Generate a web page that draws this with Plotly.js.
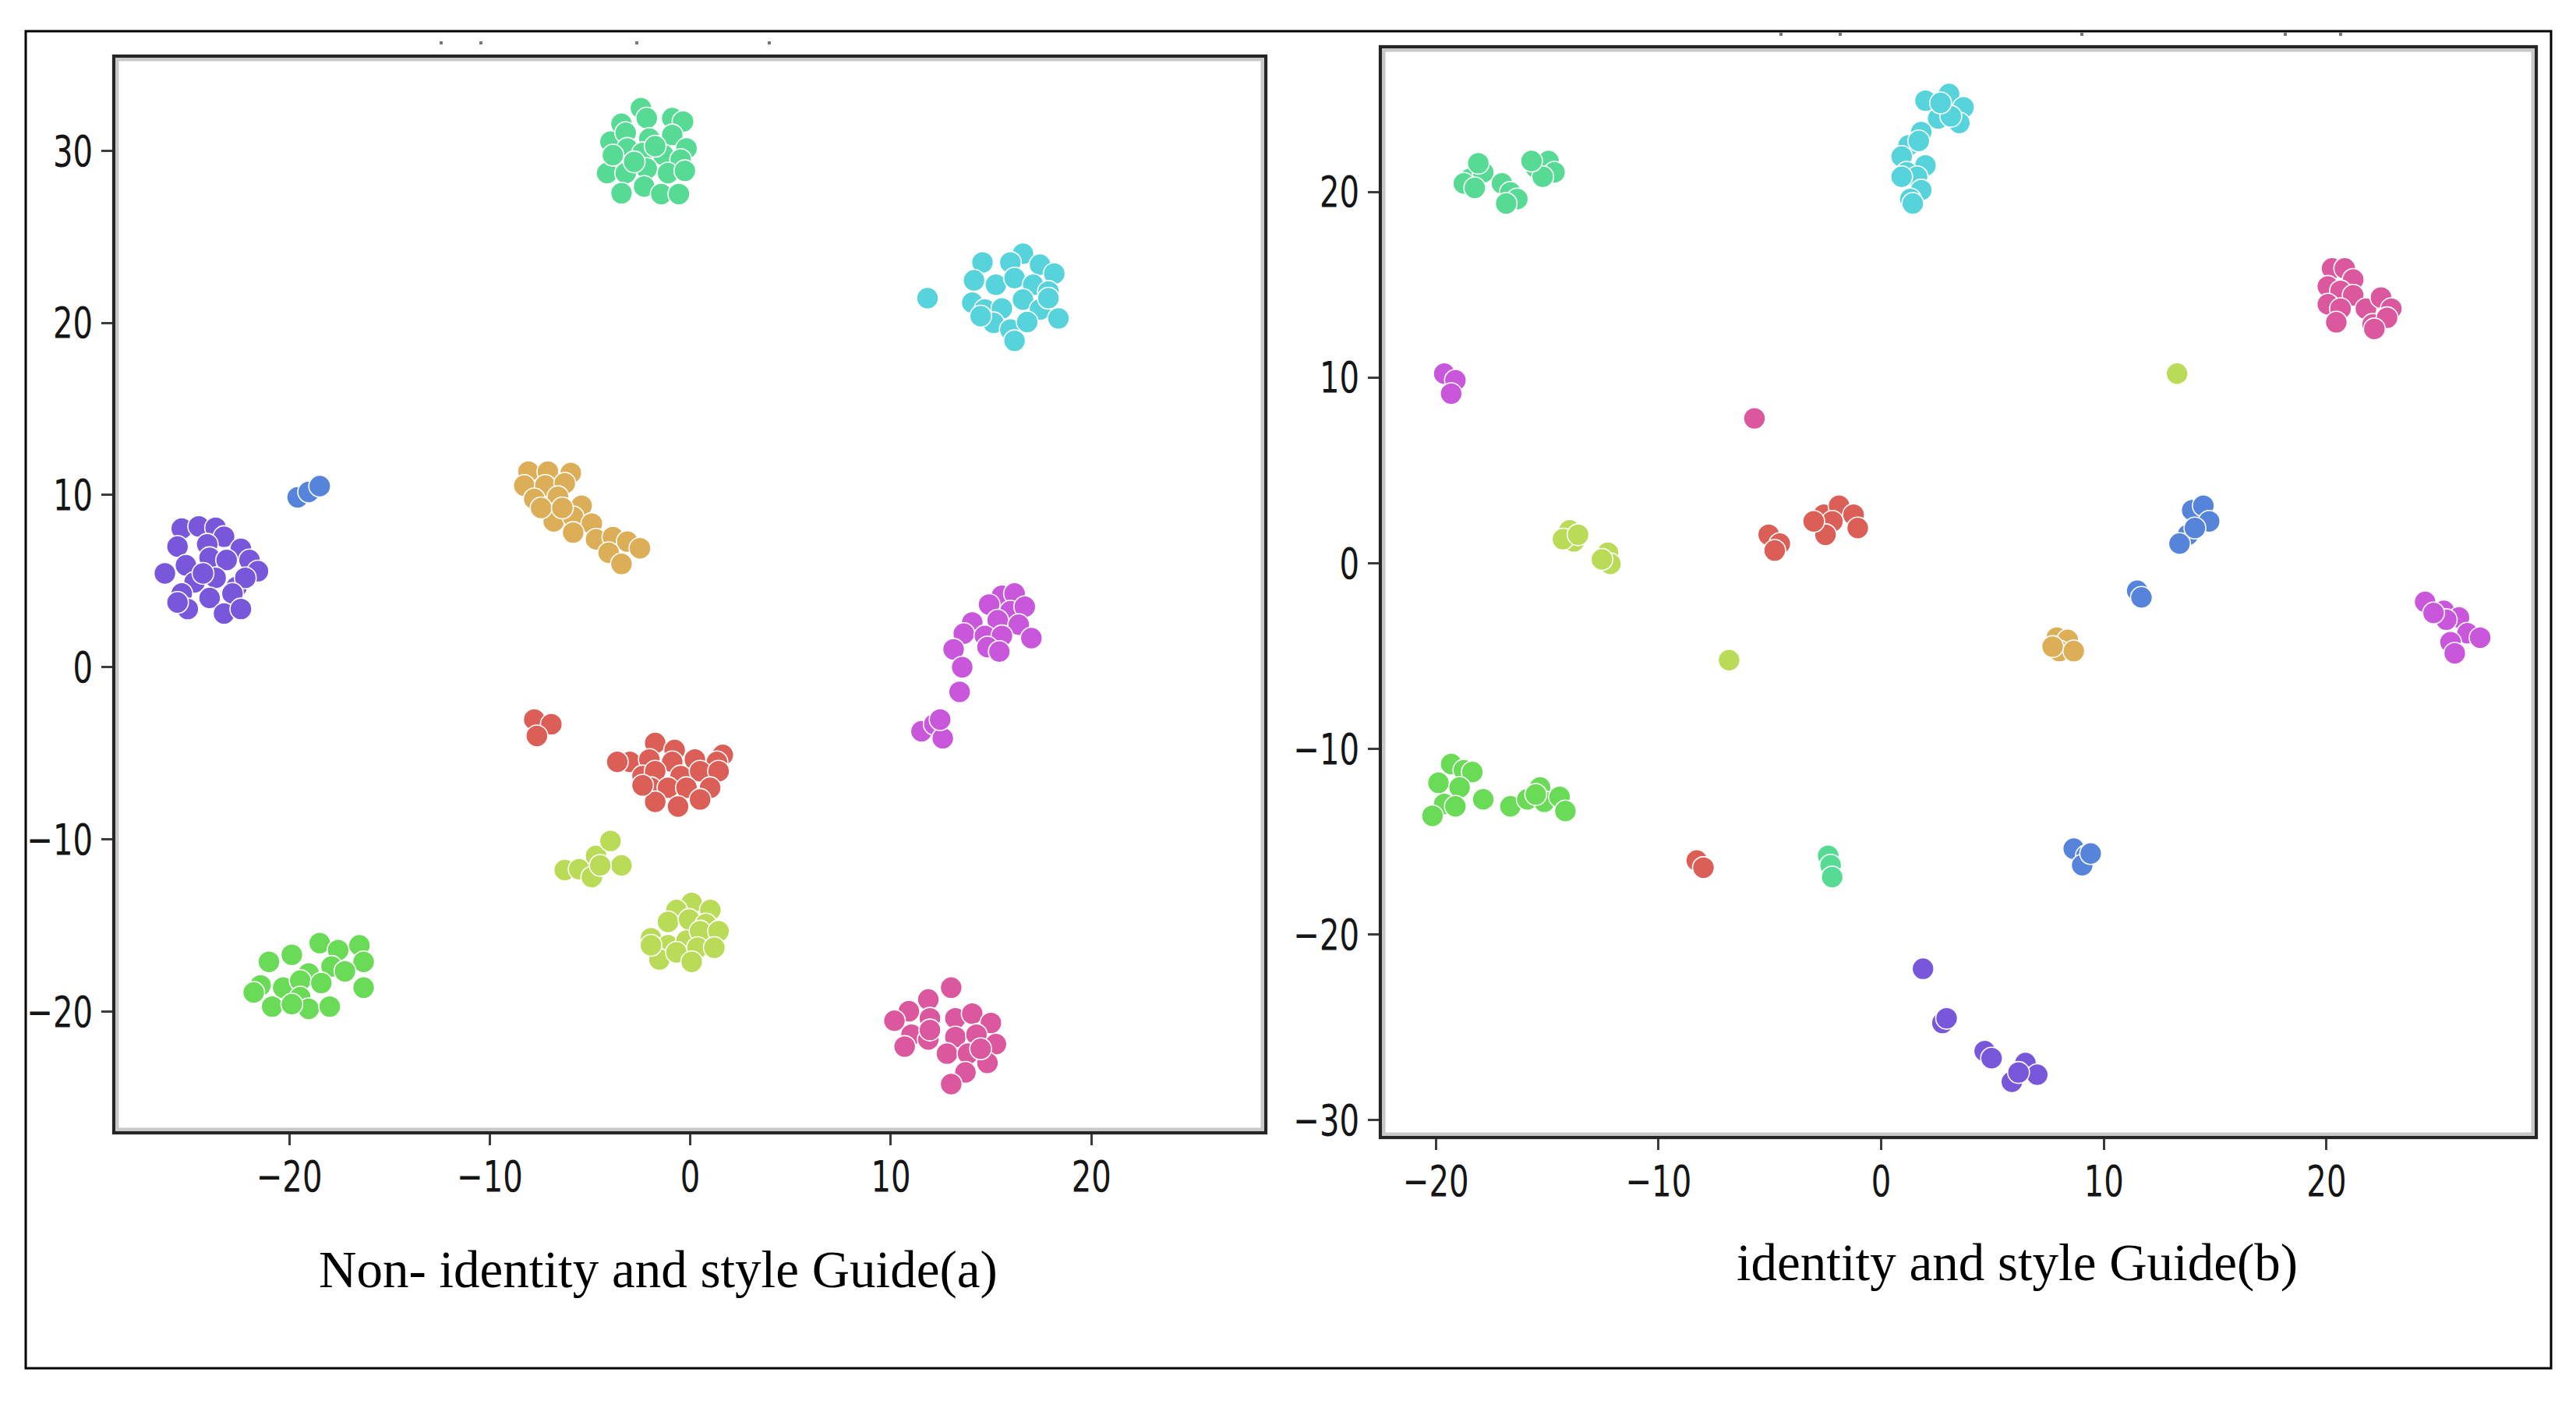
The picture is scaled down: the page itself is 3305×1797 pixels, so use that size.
<!DOCTYPE html>
<html>
<head>
<meta charset="utf-8">
<script src="https://cdn.plot.ly/plotly-3.0.1.min.js"></script>
<style>html,body{margin:0;padding:0;background:#fff;}#chart{width:3305px;height:1797px;}</style>
</head>
<body>
<div id="chart"></div>
<script>
// ---------- DATA: panel (a) "Non- identity and style Guide" ----------
const A_RED_X = [-7.78,-6.93,-7.65,-1.75,-0.78,-3.01,-3.64,-2.04,-0.90,0.23,1.62,1.33,-2.38,-1.75,-0.48,0.49,1.41,-1.96,-1.11,-0.19,0.99,-1.75,-0.61,0.49,-2.38];
const A_RED_Y = [-3.04,-3.31,-3.99,-4.40,-4.81,-5.50,-5.50,-5.36,-5.50,-5.36,-5.09,-5.50,-6.32,-6.04,-6.32,-6.04,-6.04,-7.00,-7.00,-7.00,-7.00,-7.82,-8.09,-7.68,-6.86];
const A_GOLD_X = [-8.07,-7.10,-5.96,-8.28,-7.23,-6.26,-7.78,-6.60,-5.42,-6.81,-5.84,-4.91,-5.84,-4.70,-3.86,-3.14,-2.51,-4.07,-3.43,-7.44,-6.38];
const A_GOLD_Y = [11.36,11.36,11.28,10.55,10.55,10.68,9.77,9.90,9.38,8.47,8.73,8.34,7.82,7.43,7.56,7.30,6.91,6.65,6.00,9.25,9.25];
const A_YGREEN_X = [-6.26,-5.54,-4.70,-3.98,-3.43,-4.91,-4.49,0.07,-0.69,1.00,-1.11,-0.06,0.78,-1.96,-1.11,-0.19,0.49,1.41,-1.54,-0.69,0.36,1.20,0.07,-1.96];
const A_YGREEN_Y = [-11.78,-11.73,-10.96,-10.09,-11.51,-12.19,-11.51,-13.69,-14.10,-14.10,-14.79,-14.65,-14.92,-15.74,-16.15,-15.88,-15.33,-15.33,-16.97,-16.56,-16.29,-16.29,-17.11,-16.15];
const A_GREEN_X = [-18.48,-19.87,-21.01,-17.56,-16.50,-16.29,-19.03,-17.89,-17.22,-21.43,-20.30,-19.45,-18.40,-16.29,-20.85,-19.45,-19.03,-17.98,-21.77,-19.87];
const A_GREEN_Y = [-16.02,-16.70,-17.11,-16.43,-16.15,-17.11,-17.79,-17.38,-17.66,-18.48,-18.61,-18.20,-18.34,-18.61,-19.71,-19.16,-19.84,-19.71,-18.89,-19.57];
const A_MINT_X = [-2.46,-3.43,-2.17,-0.90,-0.36,-3.98,-3.22,-2.04,-0.90,-0.19,-3.14,-2.38,-1.33,-0.48,-4.15,-3.22,-2.17,-1.11,-0.27,-3.43,-2.30,-1.45,-0.57,-2.80,-1.75,-3.86];
const A_MINT_Y = [32.47,31.56,31.89,31.89,31.69,30.52,31.04,30.70,30.91,30.13,30.13,29.87,29.74,29.48,28.70,28.70,28.96,28.70,28.83,27.53,27.92,27.48,27.48,29.35,30.26,29.74];
const A_CYAN_X = [11.83,16.59,14.57,15.96,17.44,18.15,14.15,15.24,16.17,17.10,17.86,14.06,14.69,15.54,16.59,17.44,18.36,15.12,15.96,16.80,16.17,14.48,17.86];
const A_CYAN_Y = [21.43,24.02,23.51,23.51,23.38,22.86,22.47,22.21,22.60,22.21,21.82,21.17,20.78,20.83,21.35,20.78,20.26,20.00,19.61,20.05,18.96,20.39,21.43];
const A_BLUE_X = [-19.58,-19.03,-18.48];
const A_BLUE_Y = [9.87,10.18,10.52];
const A_PURPLE_X = [-25.36,-24.51,-23.67,-23.25,-25.57,-24.09,-22.41,-26.20,-25.15,-23.97,-23.12,-21.98,-21.56,-24.72,-23.67,-22.62,-22.19,-25.36,-23.97,-22.83,-25.06,-23.25,-22.41,-25.57,-24.30];
const A_PURPLE_Y = [8.05,8.18,8.10,7.58,7.01,7.14,6.88,5.45,5.92,6.36,6.23,6.23,5.58,4.93,5.19,4.67,5.19,4.28,4.02,4.28,3.38,3.12,3.38,3.76,5.45];
const A_MAGENTA_X = [15.54,16.17,14.90,15.96,16.68,14.06,15.33,16.38,13.64,14.69,15.54,17.01,13.13,14.82,15.41,13.56,13.43,11.53,12.17,12.59,12.46];
const A_MAGENTA_Y = [4.15,4.28,3.64,3.25,3.51,2.60,2.73,2.47,1.95,1.82,1.82,1.69,1.04,1.17,0.91,0.00,-1.43,-3.72,-3.31,-4.13,-3.04];
const A_PINK_X = [13.01,11.87,10.90,10.18,11.95,13.22,14.06,14.99,11.03,11.87,13.22,14.27,15.24,10.69,12.80,13.85,14.82,13.72,13.01,14.48,11.95];
const A_PINK_Y = [-18.61,-19.30,-19.98,-20.53,-20.39,-20.39,-20.12,-20.66,-21.34,-21.62,-21.48,-21.34,-21.89,-22.03,-22.44,-22.44,-22.98,-23.53,-24.21,-22.16,-21.07];

// ---------- DATA: panel (b) "identity and style Guide" ----------
const B_RED_X = [-5.05,-4.55,-4.78,-2.57,-1.89,-1.24,-2.19,-1.05,-2.50,-3.03,-8.28,-7.98];
const B_RED_Y = [1.53,1.05,0.68,2.61,3.09,2.61,2.25,1.89,1.53,2.25,-16.03,-16.41];
const B_GOLD_X = [7.89,8.38,8.00,8.65,7.70];
const B_GOLD_Y = [-4.02,-4.14,-4.74,-4.74,-4.50];
const B_YGREEN_X = [-13.99,-13.80,-14.29,-12.27,-12.16,-12.54,-13.61,13.29,-6.83];
const B_YGREEN_Y = [1.77,1.17,1.29,0.56,-0.04,0.20,1.53,10.21,-5.23];
const B_GREEN_X = [-19.31,-18.74,-18.36,-19.88,-18.93,-17.87,-19.62,-19.12,-20.15,-16.65,-15.89,-15.32,-15.13,-14.44,-14.18,-15.51];
const B_GREEN_Y = [-10.83,-11.16,-11.26,-11.84,-12.09,-12.73,-12.98,-13.11,-13.62,-13.11,-12.73,-12.09,-12.86,-12.60,-13.36,-12.47];
const B_MINT_X = [-18.47,-17.87,-18.09,-18.74,-18.25,-17.03,-16.65,-16.34,-16.84,-15.51,-14.94,-14.67,-15.20,-15.70,-2.38,-2.27,-2.20];
const B_MINT_Y = [20.70,21.06,21.55,20.46,20.22,20.46,19.98,19.62,19.38,21.31,21.67,21.06,20.82,21.67,-15.77,-16.28,-16.92];
const B_CYAN_X = [1.99,3.05,3.70,3.51,2.56,1.80,1.23,1.69,0.92,1.99,1.15,1.61,0.92,1.80,1.31,1.42,3.13,2.67];
const B_CYAN_Y = [24.92,25.28,24.56,23.72,23.96,23.23,22.51,22.75,21.91,21.43,21.06,20.82,20.82,20.10,19.62,19.38,24.08,24.80];
const B_BLUE_X = [13.97,14.47,14.73,13.78,13.40,14.09,11.50,11.69,8.65,9.22,9.03,9.41];
const B_BLUE_Y = [2.85,3.09,2.25,1.53,1.05,1.89,-1.49,-1.85,-15.39,-15.77,-16.28,-15.65];
const B_PURPLE_X = [1.88,2.75,2.94,4.65,4.96,6.48,7.01,5.87,6.17];
const B_PURPLE_Y = [-21.86,-24.78,-24.53,-26.30,-26.68,-26.94,-27.57,-27.95,-27.45];
const B_MAGENTA_X = [-19.62,-19.12,-19.31,24.43,25.27,25.95,25.38,26.33,26.90,25.57,25.76,24.81];
const B_MAGENTA_Y = [10.21,9.85,9.13,-2.09,-2.57,-2.93,-3.05,-3.78,-4.02,-4.26,-4.86,-2.69];
const B_PINK_X = [-5.69,20.25,20.82,21.20,20.06,20.63,21.20,20.06,20.63,21.77,22.45,22.91,20.44,22.07,22.72,22.15];
const B_PINK_Y = [7.80,15.88,15.88,15.28,14.91,14.67,14.43,13.95,13.71,13.71,14.31,13.71,12.98,12.86,13.22,12.62];

const TICKS_X = [-20,-10,0,10,20];
const TICKS_YA = [-20,-10,0,10,20,30];
const TICKS_YB = [-30,-20,-10,0,10,20];
const CAPTION_A = "Non- identity and style Guide(a)";
const CAPTION_B = "identity and style Guide(b)";

// ---------- STYLE ----------
const W = 3305, H = 1797;
const COLORS = {red:'#db5f57', gold:'#dbae57', ygreen:'#b9db57', green:'#69db57', mint:'#57db94',
                cyan:'#57d3db', blue:'#5784db', purple:'#7957db', magenta:'#c957db', pink:'#db579e'};
const px = v => v / W;
const py = v => 1 - v / H;

const seriesA = [['red',A_RED_X,A_RED_Y],['gold',A_GOLD_X,A_GOLD_Y],['ygreen',A_YGREEN_X,A_YGREEN_Y],
  ['green',A_GREEN_X,A_GREEN_Y],['mint',A_MINT_X,A_MINT_Y],['cyan',A_CYAN_X,A_CYAN_Y],['blue',A_BLUE_X,A_BLUE_Y],
  ['purple',A_PURPLE_X,A_PURPLE_Y],['magenta',A_MAGENTA_X,A_MAGENTA_Y],['pink',A_PINK_X,A_PINK_Y]];
const seriesB = [['red',B_RED_X,B_RED_Y],['gold',B_GOLD_X,B_GOLD_Y],['ygreen',B_YGREEN_X,B_YGREEN_Y],
  ['green',B_GREEN_X,B_GREEN_Y],['mint',B_MINT_X,B_MINT_Y],['cyan',B_CYAN_X,B_CYAN_Y],['blue',B_BLUE_X,B_BLUE_Y],
  ['purple',B_PURPLE_X,B_PURPLE_Y],['magenta',B_MAGENTA_X,B_MAGENTA_Y],['pink',B_PINK_X,B_PINK_Y]];

const traces = [];
function addSeries(list, xa, ya) {
  list.forEach(([name, xs, ys]) => {
    traces.push({type:'scatter', mode:'markers', x:xs, y:ys, xaxis:xa, yaxis:ya, name:name, showlegend:false,
      marker:{color:COLORS[name], size:28, line:{color:'#ffffff', width:1.6}}, hoverinfo:'skip'});
  });
}
addSeries(seriesA, 'x', 'y');
addSeries(seriesB, 'x2', 'y2');

// matplotlib-style DejaVu Sans labels, horizontally compressed like the reference
const tickFont = {family:'DejaVu Sans, sans-serif', size:55, color:'#151515'};
const TICK_SQUEEZE = 0.73;
const XLABEL_SHIFT = -7;
function axis(domain, range, ticks, anchor) {
  return {domain:domain, range:range, tickvals:ticks, ticks:'outside', ticklen:14, tickwidth:3, tickcolor:'#3c3c3c',
    showline:true, mirror:true, linecolor:'#252525', linewidth:4, showgrid:false, zeroline:false,
    tickfont:tickFont, anchor:anchor, fixedrange:true, ticklabelstandoff:0};
}

// axis box pixel extents
const A_BOX = {l:148, r:1622, t:74, b:1451};
const B_BOX = {l:1773, r:3252, t:62, b:1457};

const layout = {
  width:W, height:H, margin:{l:0,r:0,t:0,b:0}, paper_bgcolor:'#ffffff', plot_bgcolor:'rgba(0,0,0,0)',
  showlegend:false,
  xaxis: axis([px(A_BOX.l), px(A_BOX.r)], [-28.67, 28.62], TICKS_X, 'y'),
  yaxis: axis([py(A_BOX.b), py(A_BOX.t)], [-26.95, 35.4], TICKS_YA, 'x'),
  xaxis2: axis([px(B_BOX.l), px(B_BOX.r)], [-22.42, 29.35], TICKS_X, 'y2'),
  yaxis2: axis([py(B_BOX.b), py(B_BOX.t)], [-30.87, 27.74], TICKS_YB, 'x2'),
  annotations: [
    {text:CAPTION_A, xref:'paper', yref:'paper', x:px(844), y:py(1628), xanchor:'center', yanchor:'middle', showarrow:false,
     font:{family:'Liberation Serif, Times New Roman, serif', size:67, color:'#000'}},
    {text:CAPTION_B, xref:'paper', yref:'paper', x:px(2588), y:py(1619), xanchor:'center', yanchor:'middle', showarrow:false,
     font:{family:'Liberation Serif, Times New Roman, serif', size:67, color:'#000'}}
  ],
  shapes: [
    {type:'rect', xref:'paper', yref:'paper', x0:px(A_BOX.l), x1:px(A_BOX.r), y0:py(A_BOX.b), y1:py(A_BOX.t), line:{color:'#c8c8c8', width:9}, layer:'below'},
    {type:'rect', xref:'paper', yref:'paper', x0:px(B_BOX.l), x1:px(B_BOX.r), y0:py(B_BOX.b), y1:py(B_BOX.t), line:{color:'#c8c8c8', width:9}, layer:'below'},
    {type:'rect', xref:'paper', yref:'paper', x0:px(33), x1:px(3273), y0:py(1755), y1:py(40), line:{color:'#000', width:3}, layer:'above'},
    ...[566,617,817,987].map(v => ({type:'rect', xref:'paper', yref:'paper', x0:px(v-2), x1:px(v+2), y0:py(57), y1:py(53), fillcolor:'#777', line:{width:0}})),
    ...[2285,2361,2671,2932,3003].map(v => ({type:'rect', xref:'paper', yref:'paper', x0:px(v-2), x1:px(v+2), y0:py(46), y1:py(42), fillcolor:'#777', line:{width:0}}))
  ]
};

Plotly.newPlot('chart', traces, layout, {staticPlot:true, displayModeBar:false}).then(gd => {
  const squeeze = (sel, dy) => {
    gd.querySelectorAll(sel).forEach(t => {
      const ax = parseFloat(t.getAttribute('x')) || 0;
      const prev = t.getAttribute('transform') || '';
      t.setAttribute('transform', prev + ` translate(${ax},${dy}) scale(${TICK_SQUEEZE},1) translate(${-ax},0)`);
    });
  };
  squeeze('g.xtick text, g.x2tick text', XLABEL_SHIFT);
  squeeze('g.ytick text, g.y2tick text', 0);
});
</script>
</body>
</html>
